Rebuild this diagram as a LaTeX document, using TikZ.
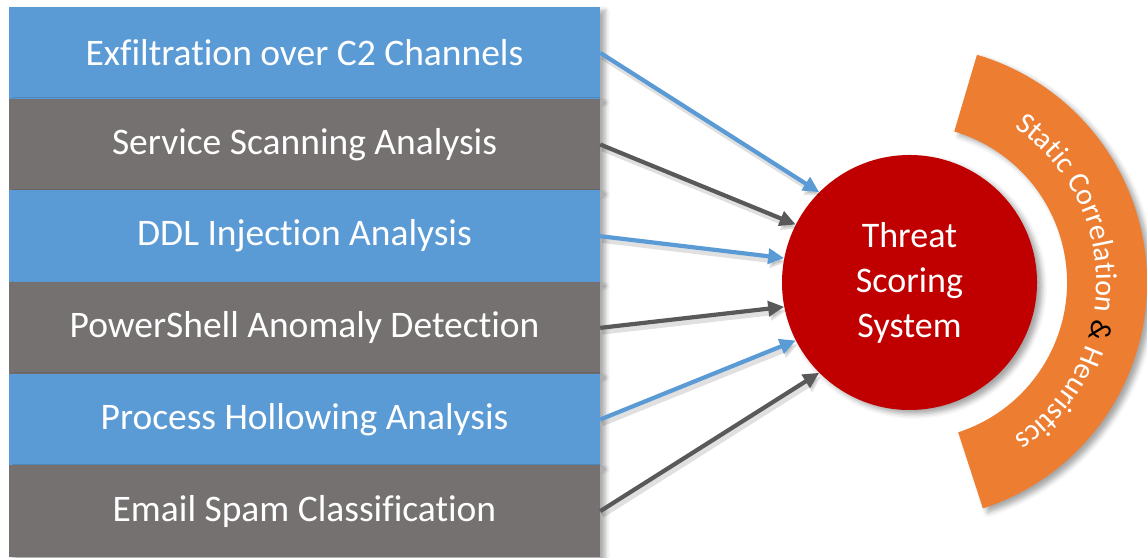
\documentclass[tikz,border=0pt]{standalone}
\usepackage{fontspec}
\setmainfont{Carlito}[Ligatures=NoCommon]
\usetikzlibrary{arrows.meta,decorations.text,shadows.blur,positioning}
\definecolor{feedblue}{HTML}{5B9BD5}
\definecolor{feedgray}{HTML}{767171}
\definecolor{arrowgray}{HTML}{595959}
\definecolor{scorered}{HTML}{C00000}
\definecolor{ringorange}{HTML}{ED7D31}
\newcommand{\ringfont}{\fontsize{30}{30}\selectfont}

\begin{document}
\begin{tikzpicture}
    [x=1pt, y=1pt, node distance=91.67pt,
    softshadow/.style={blur shadow={shadow xshift=5pt, shadow yshift=-4pt, shadow blur radius=5pt, shadow opacity=35}},
    box/.style={minimum width=591pt, minimum height=91.67pt, inner sep=0pt, text=white,
        font=\fontsize{37.5}{40}\selectfont, softshadow},
    bluebox/.style={box, fill=feedblue},
    graybox/.style={box, fill=feedgray},
    feed/.style={line width=4.2pt, -{Triangle[length=16pt,width=15pt]},
        preaction={draw=black, opacity=0.12, line width=5.5pt, transform canvas={xshift=2pt, yshift=-4pt}}},
    score/.style={circle, fill=scorered, minimum size=255pt, inner sep=0pt, text=white, align=center,
        font=\fontsize{36}{45}\selectfont, softshadow}]
    \useasboundingbox (0,0) rectangle (1147,557);

    % feeds
    \node[bluebox] (exfil) at (304.5,504.17) {Exfiltration over C2 Channels};
    \node[graybox, below of = exfil] (scan) {Service Scanning Analysis};
    \node[bluebox, below of = scan] (ddl) {DDL Injection Analysis};
    \node[graybox, below of = ddl] (pwsh) {PowerShell Anomaly Detection};
    \node[bluebox, below of = pwsh] (hollow) {Process Hollowing Analysis};
    \node[graybox, below of = hollow] (spam) {Email Spam Classification};

    \node[score] (score) at (909.5,274.5) {Threat\\Scoring\\System};

    % ring
    \fill[ringorange, softshadow] ([shift={(73.5:237.5pt)}]score.center) arc[start angle=73.5, end angle=-72, radius=237.5pt]
        -- ([shift={(-72:157.5pt)}]score.center) arc[start angle=-72, end angle=73.5, radius=157.5pt] -- cycle;
    \path[decorate, decoration={text along path, text align=center,
        text={|\ringfont\color{white}|Static Correlation |\ringfont\color{black}|{\&}|\ringfont\color{white}| Heuristics}}]
        ([shift={(80:187pt)}]score.center) arc[start angle=80, end angle=-80, radius=187pt];

    \draw[feed, feedblue] (exfil.east) -- (score.135);
    \draw[feed, arrowgray] (scan.east) -- (score.153);
    \draw[feed, feedblue] (ddl.east) -- (score.169);
    \draw[feed, arrowgray] (pwsh.east) -- (score.191);
    \draw[feed, feedblue] (hollow.east) -- (score.207);
    \draw[feed, arrowgray] (spam.east) -- (score.225);
\end{tikzpicture}
\end{document}
